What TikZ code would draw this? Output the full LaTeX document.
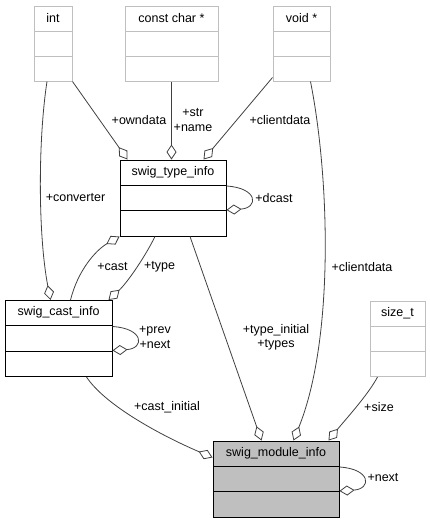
\documentclass[tikz,border=0pt]{standalone}
\usepackage{fontspec}
\setmainfont{Liberation Sans}
\usepackage{tikz}
\usetikzlibrary{calc,arrows.meta}

\definecolor{edgegray}{HTML}{404040}
\definecolor{boxgray}{HTML}{BFBFBF}
\newcommand{\umlfont}{\fontsize{12.5}{14.5}\selectfont}

\tikzset{
  compartments/.style={path picture={
    \draw[#1] ($(path picture bounding box.north west)!1/3!(path picture bounding box.south west)$) -- ($(path picture bounding box.north east)!1/3!(path picture bounding box.south east)$)
      ($(path picture bounding box.north west)!2/3!(path picture bounding box.south west)$) -- ($(path picture bounding box.north east)!2/3!(path picture bounding box.south east)$);}},
  umlclass/.style={draw=black, line width=1pt, inner sep=0pt, minimum height=76pt,
    compartments={black, line width=1pt},
    label={[anchor=center, yshift=-12.5pt, font=\umlfont]north:#1}},
  extclass/.style={draw=boxgray, line width=1pt, inner sep=0pt, minimum height=75pt,
    compartments={boxgray, line width=1pt},
    label={[anchor=center, yshift=-12.5pt, font=\umlfont]north:#1}},
  agg/.style={draw=edgegray, line width=0.8pt, {Diamond[fill=white, length=15pt, width=10pt]}-},
  lbl/.style={font=\umlfont, inner sep=0pt, align=center}
}

\begin{document}
\begin{tikzpicture}[x=1pt, y=-1pt]
    \useasboundingbox (0,0) rectangle (430,523);

    % Plain types
    \node[extclass=int, minimum width=38pt] (int) at (53,43.5) {};
    \node[extclass={const char *}, minimum width=93pt] (cchar) at (171.5,43.5) {};
    \node[extclass={void *}, minimum width=57pt] (voidp) at (301.5,43.5) {};
    \node[extclass=size\_t, minimum width=55pt] (sizet) at (397.5,339) {};

    % Structs
    \node[umlclass=swig\_type\_info, minimum width=106pt] (typeinfo) at (173,198) {};
    \node[umlclass=swig\_cast\_info, minimum width=107pt] (castinfo) at (58.5,338.5) {};
    \node[umlclass=swig\_module\_info, minimum width=126pt, fill=boxgray] (module) at (276,479) {};

    % Members of swig_type_info
    \draw[agg] ([xshift=8]typeinfo.north west) -- (int.south east);
    \draw[agg] (cchar.south |- typeinfo.north) -- (cchar.south);
    \draw[agg] ([xshift=-23]typeinfo.north east) -- ([yshift=4]voidp.south west);
    \draw[agg] ([yshift=-12]typeinfo.east) .. controls +(32,-2) and +(32,2) .. ([yshift=12]typeinfo.east);
    \draw[agg] (typeinfo.south west) .. controls (96,250) and (78,270) .. ([xshift=12]castinfo.north);

    % Members of swig_cast_info
    \draw[agg] ([xshift=-8]castinfo.north) .. controls (38,235) and (38,140) .. ([xshift=-6]int.south);
    \draw[agg] ([xshift=-4]castinfo.north east) .. controls (128,282) and (146,255) .. ([xshift=-18]typeinfo.south);
    \draw[agg] ([yshift=-12]castinfo.east) .. controls +(32,-2) and +(32,2) .. ([yshift=12]castinfo.east);

    % Members of swig_module_info
    \draw[agg] ([xshift=49]module.north west) -- ([xshift=17]typeinfo.south);
    \draw[agg] ([xshift=-46]module.north east) .. controls (334,340) and (330,180) .. ([xshift=9]voidp.south);
    \draw[agg] ([xshift=-11]module.north east) .. controls (345,420) and (368,395) .. ([xshift=-20]sizet.south);
    \draw[agg] ([yshift=-17]module.north west) .. controls (160,435) and (105,405) .. ([xshift=28]castinfo.south);
    \draw[agg] ([yshift=-12]module.east) .. controls +(32,-2) and +(32,2) .. ([yshift=12]module.east);

    % Member names
    \node[lbl] (lowndata) at (139,120) {+owndata};
    \node[lbl] (lname) at (193,120) {+str\\+name};
    \node[lbl] (lclient) at (280,120) {+clientdata};
    \node[lbl] (lconv) at (75.5,198) {+converter};
    \node[lbl] (ldcast) at (274,198) {+dcast};
    \node[lbl] (lcast) at (112.5,267) {+cast};
    \node[lbl] (ltype) at (159.5,267) {+type};
    \node[lbl] (lmclient) at (362,267) {+clientdata};
    \node[lbl] (lprev) at (155,337.5) {+prev\\+next};
    \node[lbl] (ltypes) at (276,337.5) {+type\_initial\\+types};
    \node[lbl] (lcastinit) at (167,407) {+cast\_initial};
    \node[lbl] (lsize) at (379,407) {+size};
    \node[lbl] (lnext) at (383,478) {+next};

\end{tikzpicture}
\end{document}
